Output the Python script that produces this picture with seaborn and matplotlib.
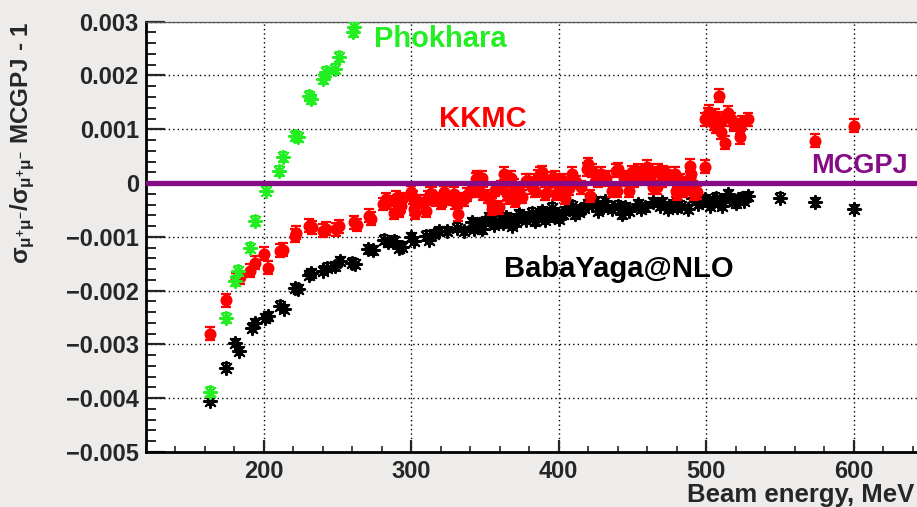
import matplotlib
matplotlib.use("Agg")
import matplotlib.pyplot as plt
import numpy as np
import pandas as pd
import seaborn as sns
from matplotlib.ticker import MultipleLocator, FixedLocator, FixedFormatter

# ---------------- data ----------------
phokhara_e = [163.5, 174.3, 180.4, 182.6, 190.5, 193.9, 201.4, 210.3, 213.0, 221.0,
              223.2, 230.6, 232.2, 240.5, 242.3, 248.0, 250.9, 260.4, 261.5]
phokhara_v = [-0.00388, -0.00251, -0.00182, -0.00163, -0.00120, -0.00070, -0.00014, 0.00022,
              0.00048, 0.00088, 0.00085, 0.00162, 0.00156, 0.00193, 0.00206, 0.00212,
              0.00234, 0.00280, 0.00290]
phokhara_err = [0.00009] * len(phokhara_e)

kkmc_e = [163.5, 174.3, 181.5, 184, 190.5, 194, 200, 203, 211, 213, 221, 222, 231, 233, 240, 242,
          249, 251, 261.5, 263, 271.6, 273, 280.6, 283, 284, 288.5, 289.6, 292, 293, 294,
          299.8, 300.9, 302, 306, 310, 313, 314.4, 316.5, 321, 322, 326, 329, 330, 331, 336,
          338, 341.4, 343.7, 344.6, 346, 348, 349, 352, 354.7, 357, 359.5, 361, 362.8, 365,
          366, 368, 370, 373, 375, 377.5, 379.7, 382, 384, 386, 388.7, 391, 393, 395, 397.7,
          400, 402, 404.5, 407, 409, 412, 415, 419, 420, 421, 422.5, 424.8, 427, 429, 432,
          436, 439, 440.5, 444, 448, 451, 454, 457, 459.7, 461.9, 464, 467.6, 469.8, 474,
          476, 478.8, 479.5, 482, 484.5, 487, 489, 490, 491.2, 492, 499, 499, 501, 502,
          503.6, 505, 505.8, 507, 508, 509, 510, 511, 512.6, 514.9, 517, 519, 522.7, 522.7,
          528.4, 524.5, 574, 600,
          302.5, 311.5, 320.5, 331.7, 339.6, 355, 370.6, 387.6, 398, 431.6, 439.4, 445,
          449.5, 458.5, 463, 466.4, 470.9, 476.5, 480, 489, 493.5]
kkmc_v = [-0.00280, -0.00218, -0.00179, -0.00175, -0.00163, -0.00148, -0.00131, -0.00157,
          -0.00126, -0.00124, -0.00098, -0.00092, -0.00079, -0.00082, -0.00089, -0.00085,
          -0.00086, -0.00080, -0.00073, -0.00078, -0.00061, -0.00066, -0.00039, -0.00030,
          -0.00036, -0.00055, -0.00027, -0.00052, -0.00042, -0.00030, -0.00017, -0.00027,
          -0.00048, -0.00035, -0.00052, -0.00020, -0.00020, -0.00030, -0.00033, -0.00017,
          -0.00028, -0.00020, -0.00036, -0.00033, -0.00030, -0.00022, -0.00011, 0.00007,
          0.00010, -0.00014, 0.00010, -0.00020, -0.00025, -0.00039, -0.00012, -0.00045,
          -0.00008, 0.00017, -0.00020, -0.00027, 0.00010, -0.00005, -0.00014, -0.00025,
          0.00004, 0.00004, -0.00008, -0.00014, 0.00012, 0.00020, -0.00020, -0.00002,
          0.00008, 0.00010, -0.00006, 0.00005, -0.00027, -0.00010, 0.00017, 0.00002,
          -0.00008, 0.00026, 0.00035, -0.00024, 0.00023, 0.00017, 0.00005, 0.00017, 0.00010,
          -0.00014, 0.00023, 0.00026, 0.00010, -0.00014, 0.00005, 0.00023, 0.00012, 0.00030,
          0.00010, -0.00008, 0.00023, 0.00004, 0.00017, 0.00008, 0.00017, -0.00014, 0.00005,
          -0.00014, -0.00010, 0.00032, 0.00017, -0.00008, -0.00020, 0.00030, 0.00119,
          0.00128, 0.00133, 0.00119, 0.00110, 0.00125, 0.00105, 0.00115, 0.00162, 0.00094,
          0.00120, 0.00075, 0.00131, 0.00119, 0.00108, 0.00103, 0.00085, 0.00119, 0.00113,
          0.00079, 0.00107,
          -0.00055, -0.00027, -0.00036, -0.00058, -0.00014, -0.00048, -0.00033, 0.00017,
          -0.00020, 0.00007, -0.00014, 0.00007, 0.00020, 0.00020, 0.00023, -0.00008,
          0.00020, 0.00010, -0.00020, 0.00010, -0.00017]
kkmc_err = [0.00012] * len(kkmc_e)

baba_e = [163.5, 174.3, 180.4, 183.3, 191.7, 194, 200.7, 203, 210.8, 213.5, 221, 223, 230.6,
          232, 240, 243.2, 248, 251.4, 260, 262, 271, 274, 281.7, 284, 288.5, 292, 294,
          299.8, 302, 310, 312, 315.5, 319, 324.5, 331, 336, 341.4, 342.5, 346, 348, 352.7,
          356, 359.5, 364, 368.4, 373, 377.5, 382, 384, 386, 388.7, 391, 393, 395.5, 398,
          400, 404.5, 409, 411, 413.6, 417, 420, 422.5, 424.8, 427, 431.5, 436, 440.5,
          442.8, 448, 453.8, 458.3, 464, 468.5, 474, 477.3, 483, 487.6, 491.2, 494.6, 499,
          502.4, 505, 506.9, 508, 511, 514.9, 518, 521.6, 526, 528.4, 550, 574, 600,
          345, 350, 355, 362, 367, 371, 375, 380, 392, 397, 403, 407, 415, 430, 445, 456,
          470, 480, 497, 510, 516, 520, 524]
baba_v = [-0.00405, -0.00343, -0.00297, -0.00312, -0.00269, -0.00260, -0.00251, -0.00248,
          -0.00228, -0.00234, -0.00195, -0.00197, -0.00171, -0.00168, -0.00163, -0.00157,
          -0.00155, -0.00145, -0.00148, -0.00150, -0.00123, -0.00125, -0.00105, -0.00110,
          -0.00107, -0.00120, -0.00118, -0.00101, -0.00108, -0.00098, -0.00105, -0.00095,
          -0.00089, -0.00089, -0.00083, -0.00089, -0.00073, -0.00085, -0.00076, -0.00086,
          -0.00064, -0.00078, -0.00070, -0.00064, -0.00079, -0.00058, -0.00069, -0.00055,
          -0.00071, -0.00062, -0.00052, -0.00068, -0.00064, -0.00046, -0.00058, -0.00067,
          -0.00052, -0.00042, -0.00058, -0.00054, -0.00046, -0.00039, -0.00039, -0.00033,
          -0.00052, -0.00033, -0.00048, -0.00042, -0.00058, -0.00052, -0.00039, -0.00045,
          -0.00036, -0.00042, -0.00048, -0.00039, -0.00042, -0.00048, -0.00027, -0.00039,
          -0.00030, -0.00042, -0.00033, -0.00027, -0.00035, -0.00042, -0.00020, -0.00033,
          -0.00030, -0.00033, -0.00024, -0.00027, -0.00036, -0.00048,
          -0.00082, -0.00072, -0.00068, -0.00075, -0.00066, -0.00072, -0.00062, -0.00064,
          -0.00057, -0.00062, -0.00058, -0.00048, -0.00048, -0.00045, -0.00045, -0.00048,
          -0.00036, -0.00045, -0.00036, -0.00033, -0.00030, -0.00038, -0.00027]
baba_err = [0.00008] * len(baba_e)

ytick_vals = [0.003, 0.002, 0.001, 0.0, -0.001, -0.002, -0.003, -0.004, -0.005]
ytick_labels = ["0.003", "0.002", "0.001", "0", "\u22120.001", "\u22120.002",
                "\u22120.003", "\u22120.004", "\u22120.005"]
xtick_vals = [200, 300, 400, 500, 600]
xtick_labels = ["200", "300", "400", "500", "600"]

labels = ["Phokhara", "KKMC", "MCGPJ", "BabaYaga@NLO"]

# ---------------- style ----------------
sns.set_style("white")
plt.rcParams["font.family"] = ["Liberation Sans", "DejaVu Sans"]
plt.rcParams["font.weight"] = "bold"
plt.rcParams["axes.labelweight"] = "bold"

GREEN = "#22ee22"
RED = "#ff0000"
BLACK = "#000000"
PURPLE = "#860b86"

fig = plt.figure(figsize=(9.17, 5.07), dpi=100)
fig.patch.set_facecolor("#eeecea")
ax = fig.add_axes([0.159, 0.1085, 0.841, 0.8487])
ax.set_facecolor("white")

df_ph = pd.DataFrame({"E": phokhara_e, "v": phokhara_v, "err": phokhara_err})
df_kk = pd.DataFrame({"E": kkmc_e, "v": kkmc_v, "err": kkmc_err})
df_bb = pd.DataFrame({"E": baba_e, "v": baba_v, "err": baba_err})

star = (8, 2, 0)

# black
ax.errorbar(df_bb["E"], df_bb["v"], yerr=df_bb["err"], fmt="none", ecolor=BLACK,
            elinewidth=1.5, capsize=3, capthick=1.5, zorder=3)
sns.scatterplot(data=df_bb, x="E", y="v", marker=star, color=BLACK, s=90,
                linewidth=1.5, ax=ax, zorder=4, legend=False)
# red
ax.errorbar(df_kk["E"], df_kk["v"], yerr=df_kk["err"], fmt="none", ecolor=RED,
            elinewidth=1.6, capsize=3.5, capthick=1.6, zorder=5)
sns.scatterplot(data=df_kk, x="E", y="v", marker="o", color=RED, s=75,
                linewidth=0, ax=ax, zorder=6, legend=False)
# green
ax.errorbar(df_ph["E"], df_ph["v"], yerr=df_ph["err"], fmt="none", ecolor=GREEN,
            elinewidth=1.5, capsize=3, capthick=1.5, zorder=7)
sns.scatterplot(data=df_ph, x="E", y="v", marker=star, color=GREEN, s=90,
                linewidth=1.5, ax=ax, zorder=8, legend=False)

# MCGPJ reference line
ax.axhline(0.0, color=PURPLE, lw=3.8, zorder=9)

ax.set_xlim(120, 643)
ax.set_ylim(-0.005, 0.003)

ax.xaxis.set_major_locator(FixedLocator(xtick_vals))
ax.xaxis.set_major_formatter(FixedFormatter(xtick_labels))
ax.xaxis.set_minor_locator(MultipleLocator(20))
ax.yaxis.set_major_locator(FixedLocator(ytick_vals))
ax.yaxis.set_major_formatter(FixedFormatter(ytick_labels))
ax.yaxis.set_minor_locator(MultipleLocator(0.0002))

ax.tick_params(axis="y", which="major", direction="in", length=14, width=1.6,
               labelsize=17, pad=5, left=True)
ax.tick_params(axis="y", which="minor", direction="in", length=7, width=1.4, left=True)
ax.tick_params(axis="x", which="major", direction="in", length=9, width=1.6,
               labelsize=17, pad=6, bottom=True)
ax.tick_params(axis="x", which="minor", direction="in", length=4.5, width=1.2, bottom=True)

ax.grid(True, which="major", linestyle=(0, (1, 2.2)), color="black", lw=1.0)
ax.set_axisbelow(True)

for side in ["left", "bottom"]:
    ax.spines[side].set_linewidth(2.0)
    ax.spines[side].set_color("black")
ax.spines["top"].set_linewidth(0.9)
ax.spines["top"].set_color("#555555")
ax.spines["right"].set_visible(False)

ax.set_xlabel("Beam energy, MeV", loc="right", fontsize=18.5, fontweight="bold")
ax.xaxis.set_label_coords(0.997, -0.072)
ax.set_ylabel(r"$\mathregular{\sigma_{\mu^{+}\mu^{-}}/\sigma_{\mu^{+}\mu^{-}}}$ MCGPJ - 1",
              loc="top", fontsize=17.5, fontweight="bold")
ax.yaxis.set_label_coords(-0.141, 1.0)

# series labels
ax.text(275, 0.00268, labels[0], color=GREEN, fontsize=21, ha="left", va="center", zorder=10)
ax.text(319, 0.00120, labels[1], color=RED, fontsize=21, ha="left", va="center", zorder=10)
ax.text(571, 0.00032, labels[2], color=PURPLE, fontsize=19.5, ha="left", va="center", zorder=10)
ax.text(363, -0.00160, labels[3], color=BLACK, fontsize=21, ha="left", va="center", zorder=10)

fig.savefig("out.png", dpi=100, facecolor=fig.get_facecolor())
